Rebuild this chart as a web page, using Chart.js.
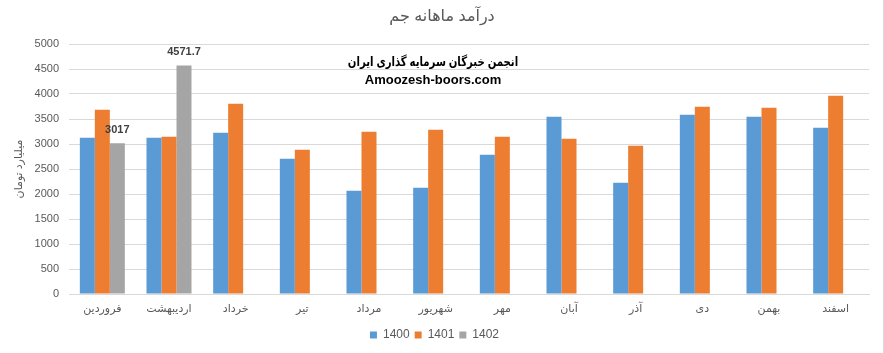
<!DOCTYPE html>
<html>
<head>
<meta charset="utf-8">
<script src="https://cdn.jsdelivr.net/npm/chart.js@4"></script>
<style>
  html, body { margin: 0; padding: 0; background: #fff; }
  #wrap { width: 884px; height: 353px; position: relative; }
</style>
</head>
<body>
<div id="wrap"><canvas id="chart"></canvas></div>
<script>
const months = ["فروردین", "اردیبهشت", "خرداد", "تیر", "مرداد", "شهریور", "مهر", "آبان", "آذر", "دی", "بهمن", "اسفند"];
const revenue1400 = [3125, 3125, 3225, 2705, 2065, 2125, 2785, 3545, 2225, 3585, 3545, 3325];
const revenue1401 = [3685, 3145, 3805, 2885, 3245, 3285, 3145, 3105, 2965, 3745, 3725, 3965];
const revenue1402 = [3017, 4571.7, null, null, null, null, null, null, null, null, null, null];

const chartTitle = "درآمد ماهانه جم";
const axisTitle = "میلیارد تومان";
const watermark = ["انجمن خبرگان سرمایه گذاری ایران", "Amoozesh-boors.com"];

const textGray = "#595959";
const gridGray = "#d9d9d9";
const baseFont = "'Liberation Sans', 'DejaVu Sans', sans-serif";

// title, watermark, labels above the 1402 bars, right frame edge
const decorations = {
  id: "decorations",
  afterDatasetsDraw(chart) {
    const { ctx } = chart;
    ctx.save();
    ctx.textAlign = "center";
    ctx.textBaseline = "middle";

    ctx.fillStyle = textGray;
    ctx.font = "16px " + baseFont;
    ctx.fillText(chartTitle, 442, 17);

    ctx.fillStyle = "#000";
    ctx.font = "bold 13px " + baseFont;
    ctx.save();
    ctx.translate(433, 62);
    ctx.scale(0.78, 1);
    ctx.fillText(watermark[0], 0, 0);
    ctx.restore();
    ctx.fillText(watermark[1], 433, 80);

    const meta = chart.getDatasetMeta(2);
    ctx.fillStyle = "#404040";
    ctx.font = "bold 11px " + baseFont;
    meta.data.forEach((bar, i) => {
      const v = revenue1402[i];
      if (v == null) return;
      ctx.fillText(String(v), bar.x, bar.y - 13);
    });

    ctx.strokeStyle = gridGray;
    ctx.lineWidth = 1;
    ctx.beginPath();
    ctx.moveTo(883.5, 0);
    ctx.lineTo(883.5, 353);
    ctx.stroke();
    ctx.restore();
  },
};

new Chart(document.getElementById("chart"), {
  type: "bar",
  data: {
    labels: months,
    datasets: [
      { label: "1400", data: revenue1400, backgroundColor: "#5b9bd5" },
      { label: "1401", data: revenue1401, backgroundColor: "#ed7d31" },
      { label: "1402", data: revenue1402, backgroundColor: "#a5a5a5" },
    ],
  },
  options: {
    responsive: true,
    maintainAspectRatio: false,
    animation: false,
    datasets: { bar: { categoryPercentage: 0.675, barPercentage: 1 } },
    layout: { padding: { top: 44, right: 15, bottom: 2, left: 0 } },
    plugins: {
      legend: {
        position: "bottom",
        labels: {
          boxWidth: 7,
          boxHeight: 7,
          padding: 5,
          color: textGray,
          font: { size: 12, family: baseFont },
        },
      },
      tooltip: { enabled: false },
    },
    scales: {
      x: {
        grid: { display: false },
        border: { color: gridGray },
        ticks: { color: textGray, font: { size: 11, family: baseFont }, padding: 0, maxRotation: 0 },
        afterFit(scale) { scale.height = 30; },
      },
      y: {
        min: 0,
        max: 5000,
        ticks: {
          stepSize: 500,
          color: textGray,
          font: { size: 11, family: baseFont },
          padding: 10,
          callback: (v) => String(v),
        },
        grid: { color: gridGray, drawTicks: false },
        border: { display: false },
        title: { display: true, text: axisTitle, color: textGray, font: { size: 11, family: baseFont }, padding: { top: 12, bottom: 0 } },
        afterFit(scale) { scale.width = 69; },
      },
    },
  },
  plugins: [decorations],
});
</script>
</body>
</html>
